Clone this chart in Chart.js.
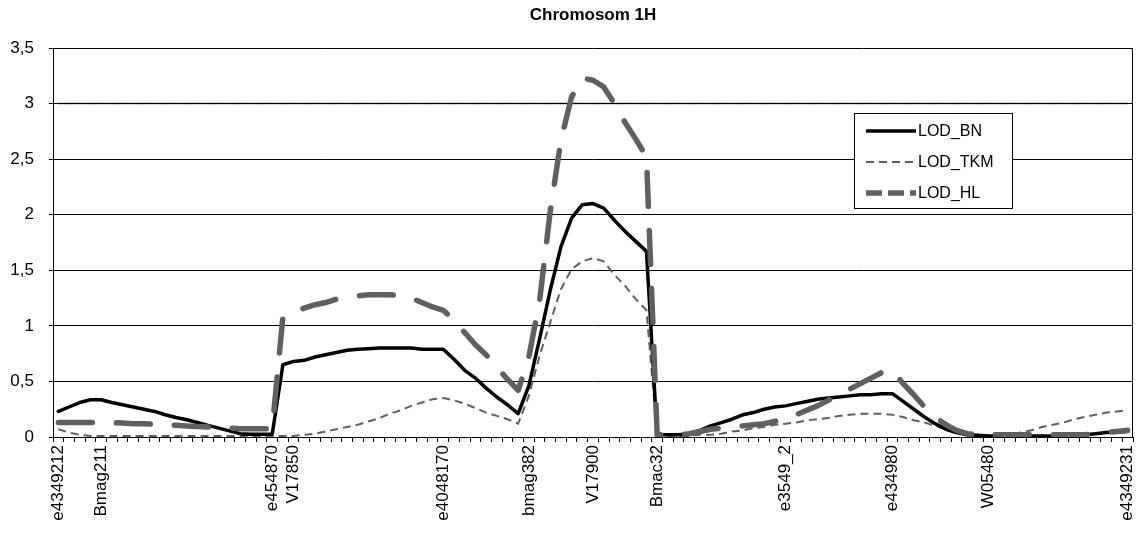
<!DOCTYPE html>
<html>
<head>
<meta charset="utf-8">
<script src="https://cdn.jsdelivr.net/npm/chart.js@4"></script>
<style>
  html, body { margin: 0; padding: 0; background: #fff; }
  #wrap { width: 1136px; height: 535px; }
</style>
</head>
<body>
<div id="wrap"><canvas id="lodChart" width="1136" height="535"></canvas></div>
<script>
// marker names and the category slot they sit on (101 slots along the chromosome)
const markerNames = ['e4349212', 'Bmag211', 'e454870', 'V17850', 'e4048170', 'bmag382',
  'V17900', 'Bmac32', 'e3549_2', 'e434980', 'W05480', 'e4349231'];
const markerSlots = [0, 4, 20, 22, 36, 44, 50, 56, 68, 78, 87, 100];

const lodBN = [
  0.23, 0.27, 0.31, 0.335, 0.335, 0.31, 0.29, 0.27, 0.25, 0.23,
  0.20, 0.175, 0.155, 0.13, 0.105, 0.08, 0.055, 0.03, 0.025, 0.025,
  0.025, 0.65, 0.68, 0.69, 0.72, 0.74, 0.76, 0.78, 0.79, 0.795,
  0.80, 0.80, 0.80, 0.80, 0.79, 0.79, 0.79, 0.70, 0.60, 0.53,
  0.44, 0.36, 0.29, 0.21, 0.46, 0.88, 1.32, 1.71, 1.97, 2.09,
  2.10, 2.06, 1.95, 1.85, 1.76, 1.67, 0.02, 0.02, 0.02, 0.03,
  0.06, 0.10, 0.13, 0.16, 0.20, 0.22, 0.25, 0.27, 0.28, 0.30,
  0.32, 0.34, 0.35, 0.36, 0.37, 0.38, 0.38, 0.39, 0.39, 0.32,
  0.25, 0.18, 0.12, 0.07, 0.04, 0.02, 0.015, 0.01, 0.01, 0.01,
  0.01, 0.01, 0.01, 0.01, 0.01, 0.015, 0.02, 0.03, 0.04, 0.045,
  0.05
];
const lodTKM = [
  0.07, 0.04, 0.02, 0.01, 0.01, 0.01, 0.01, 0.01, 0.01, 0.01,
  0.01, 0.01, 0.01, 0.01, 0.01, 0.01, 0.01, 0.01, 0.01, 0.01,
  0.01, 0.01, 0.01, 0.02, 0.03, 0.05, 0.07, 0.09, 0.11, 0.14,
  0.17, 0.21, 0.24, 0.28, 0.31, 0.34, 0.35, 0.33, 0.30, 0.26,
  0.22, 0.19, 0.16, 0.12, 0.37, 0.73, 1.03, 1.33, 1.51, 1.58,
  1.61, 1.58, 1.46, 1.36, 1.24, 1.14, 0.01, 0.01, 0.01, 0.01,
  0.02, 0.02, 0.03, 0.05, 0.06, 0.08, 0.09, 0.11, 0.12, 0.13,
  0.15, 0.16, 0.17, 0.19, 0.20, 0.21, 0.21, 0.21, 0.20, 0.18,
  0.15, 0.13, 0.10, 0.07, 0.04, 0.02, 0.01, 0.01, 0.01, 0.02,
  0.04, 0.06, 0.09, 0.11, 0.13, 0.16, 0.18, 0.20, 0.22, 0.23,
  0.24
];
const lodHL = [
  0.13, 0.13, 0.13, 0.13, 0.13, 0.13, 0.125, 0.12, 0.12, 0.115,
  0.11, 0.105, 0.10, 0.095, 0.09, 0.085, 0.08, 0.075, 0.075, 0.075,
  0.075, 1.08, 1.12, 1.16, 1.19, 1.21, 1.24, 1.26, 1.27, 1.28,
  1.28, 1.28, 1.27, 1.25, 1.21, 1.17, 1.14, 1.05, 0.94, 0.83,
  0.74, 0.63, 0.52, 0.42, 0.72, 1.22, 2.03, 2.67, 3.06, 3.23,
  3.21, 3.15, 3.00, 2.83, 2.68, 2.52, 0.02, 0.02, 0.02, 0.03,
  0.05, 0.07, 0.08, 0.09, 0.10, 0.11, 0.12, 0.14, 0.17, 0.20,
  0.24, 0.28, 0.33, 0.38, 0.43, 0.48, 0.53, 0.58, 0.60, 0.48,
  0.38, 0.27, 0.18, 0.11, 0.06, 0.03, 0.02, 0.02, 0.02, 0.02,
  0.02, 0.02, 0.02, 0.02, 0.02, 0.02, 0.02, 0.03, 0.04, 0.05,
  0.06
];
const lodThreshold = 3;

const categories = lodBN.map((_, i) => {
  const k = markerSlots.indexOf(i);
  return k >= 0 ? markerNames[k] : '';
});

const FONT = 'Liberation Sans';

// legend box drawn inside the plot area, like the original
const boxLegend = {
  id: 'boxLegend',
  afterDatasetsDraw(chart) {
    const ctx = chart.ctx;
    const x = 854, y = 113, w = 158, h = 95;
    ctx.save();
    ctx.fillStyle = '#fff';
    ctx.fillRect(x, y, w, h);
    ctx.strokeStyle = '#000';
    ctx.lineWidth = 1;
    ctx.strokeRect(x + 0.5, y + 0.5, w, h);
    chart.data.datasets.filter(ds => ds.inLegend).forEach((ds, i) => {
      const ly = y + 18 + i * 31;
      ctx.beginPath();
      ctx.setLineDash(ds.legendDash || ds.borderDash || []);
      ctx.lineWidth = ds.borderWidth;
      ctx.strokeStyle = ds.borderColor;
      ctx.lineCap = 'butt';
      ctx.moveTo(x + 12, ly);
      ctx.lineTo(x + 62, ly);
      ctx.stroke();
      ctx.setLineDash([]);
      ctx.fillStyle = '#000';
      ctx.font = '16px "' + FONT + '"';
      ctx.textBaseline = 'middle';
      ctx.fillText(ds.label, x + 64, ly + 1);
    });
    ctx.restore();
  }
};

// right edge of the plot frame
const rightFrame = {
  id: 'rightFrame',
  afterDraw(chart) {
    const a = chart.chartArea;
    const ctx = chart.ctx;
    ctx.save();
    ctx.strokeStyle = '#000';
    ctx.lineWidth = 1;
    ctx.beginPath();
    ctx.moveTo(Math.round(a.right) - 0.5, a.top);
    ctx.lineTo(Math.round(a.right) - 0.5, a.bottom);
    ctx.stroke();
    ctx.restore();
  }
};

const ctx = document.getElementById('lodChart').getContext('2d');
new Chart(ctx, {
  type: 'line',
  data: {
    labels: categories,
    datasets: [
      {
        label: 'LOD_BN',
        data: lodBN,
        inLegend: true,
        borderColor: '#000',
        borderWidth: 3.5,
        borderCapStyle: 'round',
        borderJoinStyle: 'round',
        order: 2,
      },
      {
        label: 'LOD_TKM',
        data: lodTKM,
        inLegend: true,
        borderColor: '#606060',
        borderWidth: 2,
        borderDash: [8, 5],
        order: 3,
      },
      {
        label: 'LOD_HL',
        data: lodHL,
        inLegend: true,
        borderColor: '#606060',
        borderWidth: 5.5,
        borderDash: [34, 24],
        legendDash: [16, 6],
        borderCapStyle: 'round',
        borderJoinStyle: 'round',
        order: 1,
      },
      {
        label: 'threshold',
        data: categories.map(() => lodThreshold),
        borderColor: '#000',
        borderWidth: 1.5,
        borderDash: [2, 1],
        order: 4,
      },
    ],
  },
  options: {
    responsive: false,
    animation: false,
    devicePixelRatio: 1,
    layout: { padding: { left: 0, right: 3, top: 0, bottom: 0 } },
    elements: {
      point: { radius: 0, hoverRadius: 0 },
      line: { tension: 0, fill: false },
    },
    plugins: {
      legend: { display: false },
      tooltip: { enabled: false },
      title: {
        display: true,
        fullSize: false,
        text: 'Chromosom 1H',
        color: '#000',
        font: { family: FONT, size: 17, weight: 'bold' },
        padding: { top: 5, bottom: 22.6 },
      },
    },
    scales: {
      x: {
        offset: true,
        grid: { offset: true, drawOnChartArea: false, drawTicks: true, tickLength: 5, color: '#000' },
        border: { display: true, color: '#000', width: 1 },
        ticks: {
          autoSkip: false,
          maxRotation: 90,
          minRotation: 90,
          padding: 3,
          color: '#000',
          font: { family: FONT, size: 17 },
        },
        afterFit(scale) {
          scale.height = 98;
          scale.paddingLeft = 0;
          scale.paddingRight = 0;
        },
      },
      y: {
        min: 0,
        max: 3.5,
        ticks: {
          stepSize: 0.5,
          padding: 15,
          color: '#000',
          font: { family: FONT, size: 17 },
          callback: (v) => String(v).replace('.', ','),
        },
        grid: { color: '#000', lineWidth: 1, tickLength: 4 },
        border: { color: '#000', width: 1 },
        afterFit(scale) {
          scale.width = 53;
          scale.paddingTop = 0;
          scale.paddingBottom = 0;
        },
      },
    },
  },
  plugins: [boxLegend, rightFrame],
});
</script>
</body>
</html>
